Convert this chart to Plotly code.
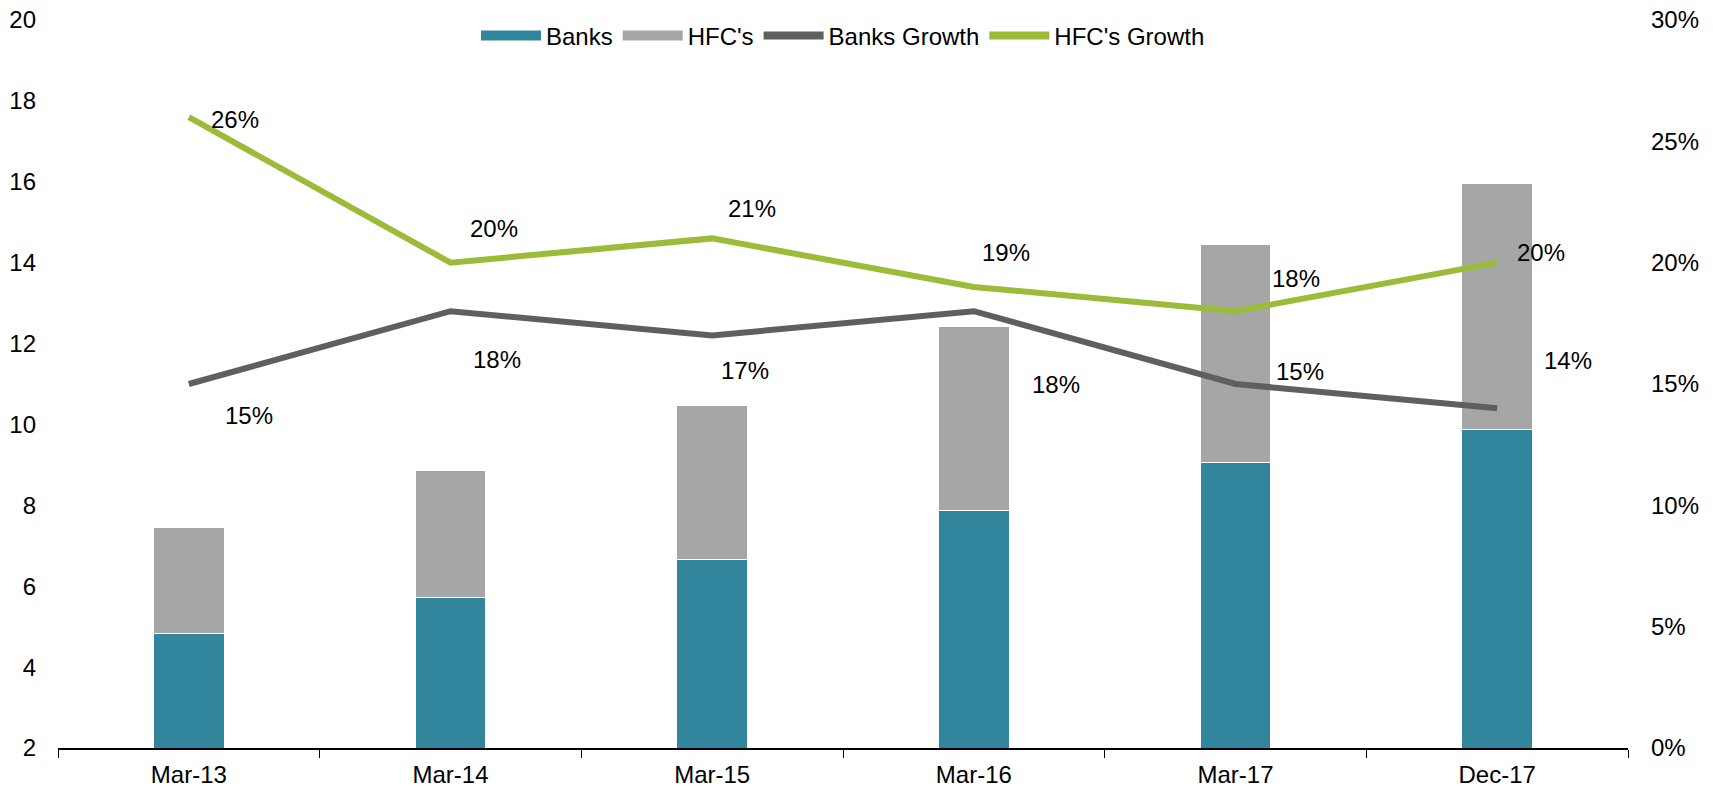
import plotly.graph_objects as go

# Données
periods = ["Mar-13", "Mar-14", "Mar-15", "Mar-16", "Mar-17", "Dec-17"]
banks = [4.83, 5.72, 6.67, 7.88, 9.07, 9.88]
hfcs = [2.62, 3.13, 3.80, 4.54, 5.37, 6.07]
banks_growth = [15, 18, 17, 18, 15, 14]
hfcs_growth = [26, 20, 21, 19, 18, 20]

# décalages des étiquettes (px)
banks_lbl_shift = [(60, -31), (46, -48), (33, -35), (82, -73), (64, 13), (71, 48)]
hfcs_lbl_shift = [(46, -2), (43, 34), (40, 30), (32, 34), (60, 33), (44, 10)]

font = "Liberation Sans, Arial, sans-serif"
c_banks, c_hfcs = "#31859C", "#A6A6A6"
c_bg, c_hg = "#5F5F5F", "#9BBB39"

fig = go.Figure()

fig.add_trace(go.Bar(
    x=periods, y=banks, name="Banks", showlegend=False,
    marker=dict(color=c_banks, line=dict(color="white", width=1)),
    width=0.27
))
fig.add_trace(go.Bar(
    x=periods, y=hfcs, name="HFC's", showlegend=False,
    marker=dict(color=c_hfcs, line=dict(color="white", width=1)),
    width=0.27
))
fig.add_trace(go.Scatter(
    x=periods, y=banks_growth, name="Banks Growth", yaxis="y2",
    mode="lines", line=dict(color=c_bg, width=6), showlegend=False
))
fig.add_trace(go.Scatter(
    x=periods, y=hfcs_growth, name="HFC's Growth", yaxis="y2",
    mode="lines", line=dict(color=c_hg, width=6), showlegend=False
))

# Légende (symboles rectangulaires pour les barres)
for name, col, w in [("Banks", c_banks, 17), ("HFC's", c_hfcs, 17),
                     ("Banks Growth", c_bg, 8), ("HFC's Growth", c_hg, 8)]:
    fig.add_trace(go.Scatter(
        x=[None], y=[None], name=name, mode="lines",
        line=dict(color=col, width=w), showlegend=True
    ))

# Étiquettes
annotations = []
for vals, shifts in ((banks_growth, banks_lbl_shift), (hfcs_growth, hfcs_lbl_shift)):
    for p, v, (dx, dy) in zip(periods, vals, shifts):
        annotations.append(dict(
            x=p, y=v, xref="x", yref="y2", text=f"{v}%",
            showarrow=False, xshift=dx, yshift=dy,
            font=dict(size=24, color="black", family=font)
        ))

fig.update_layout(
    barmode="stack",
    width=1713, height=788,
    margin=dict(l=58, r=85, t=20, b=40),
    plot_bgcolor="white", paper_bgcolor="white",
    font=dict(family=font, size=24, color="black"),
    legend=dict(
        orientation="h", x=0.5, xanchor="center", y=0.978, yanchor="middle",
        font=dict(size=24), bgcolor="rgba(0,0,0,0)", traceorder="normal",
        itemwidth=60, tracegroupgap=0
    ),
    xaxis=dict(
        showline=True, linecolor="black", linewidth=1.5,
        ticks="outside", tickson="boundaries", ticklen=8, tickcolor="black",
        showgrid=False, automargin=False, ticklabelstandoff=4
    ),
    yaxis=dict(
        range=[2, 20], dtick=2, showgrid=False, zeroline=False,
        showline=False, ticks="", ticklabelstandoff=21, automargin=False
    ),
    yaxis2=dict(
        range=[0, 30], dtick=5, overlaying="y", side="right",
        ticksuffix="%", showgrid=False, zeroline=False, showline=False,
        ticks="", ticklabelstandoff=22, automargin=False
    ),
    annotations=annotations
)

fig.write_html("out.html", config={"displayModeBar": False},
               post_script="document.body.style.margin='0';")
